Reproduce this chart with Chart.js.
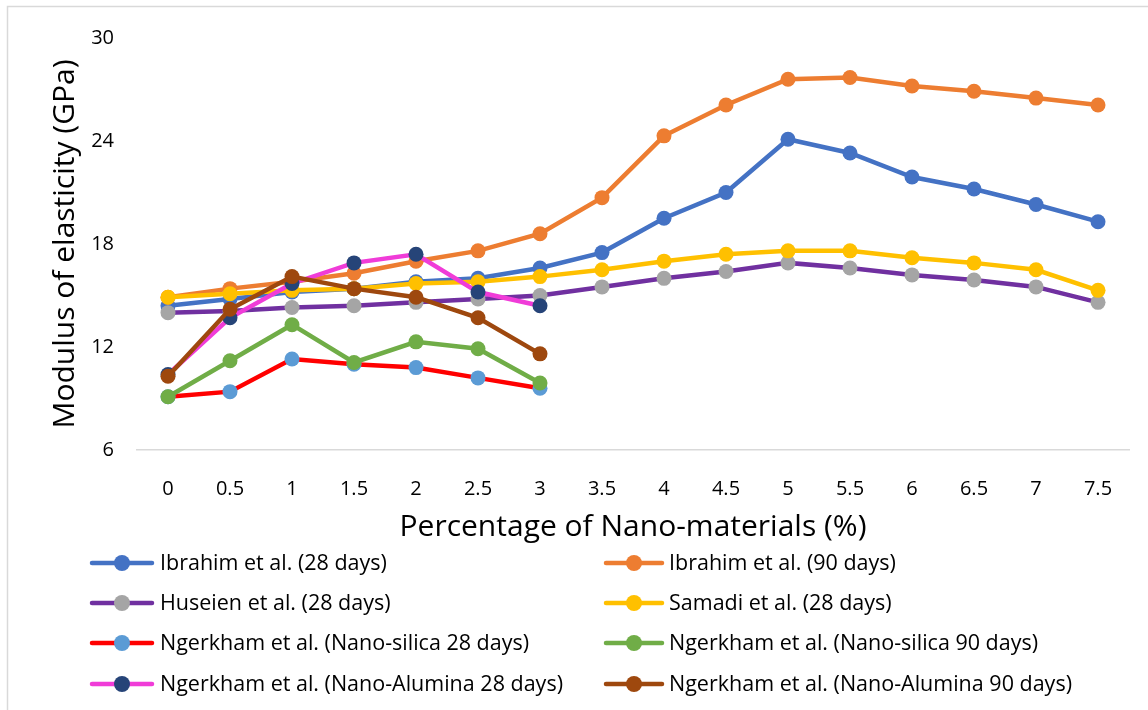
<!DOCTYPE html>
<html>
<head>
<meta charset="utf-8">
<script src="https://cdn.jsdelivr.net/npm/chart.js@4/dist/chart.umd.min.js"></script>
<style>
  html, body { margin: 0; padding: 0; background: #fff; }
  #wrap { width: 1148px; height: 710px; }
</style>
</head>
<body>
<div id="wrap"><canvas id="chart" width="1148" height="710"></canvas></div>
<script>
"use strict";

// ── Data ──────────────────────────────────────────────────────────────────────
const pctLabels = ["0", "0.5", "1", "1.5", "2", "2.5", "3", "3.5",
                   "4", "4.5", "5", "5.5", "6", "6.5", "7", "7.5"];

const ibrahim28  = [14.4, 14.8, 15.2, 15.4, 15.8, 16.0, 16.6, 17.5, 19.5, 21.0, 24.1, 23.3, 21.9, 21.2, 20.3, 19.3];
const ibrahim90  = [14.9, 15.4, 15.8, 16.3, 17.0, 17.6, 18.6, 20.7, 24.3, 26.1, 27.6, 27.7, 27.2, 26.9, 26.5, 26.1];
const huseien28  = [14.0, 14.1, 14.3, 14.4, 14.6, 14.8, 15.0, 15.5, 16.0, 16.4, 16.9, 16.6, 16.2, 15.9, 15.5, 14.6];
const samadi28   = [14.9, 15.1, 15.3, 15.4, 15.7, 15.8, 16.1, 16.5, 17.0, 17.4, 17.6, 17.6, 17.2, 16.9, 16.5, 15.3];
const nSilica28  = [9.1, 9.4, 11.3, 11.0, 10.8, 10.2, 9.6];
const nSilica90  = [9.1, 11.2, 13.3, 11.1, 12.3, 11.9, 9.9];
const nAlumina28 = [10.4, 13.7, 15.7, 16.9, 17.4, 15.2, 14.4];
const nAlumina90 = [10.3, 14.2, 16.1, 15.4, 14.9, 13.7, 11.6];

const yTicks = [6, 12, 18, 24, 30];

// ── Series styling: line colour / marker colour ───────────────────────────────
const series = [
  { label: "Ibrahim et al. (28 days)",                    data: ibrahim28,  line: "#4472c4", dot: "#4472c4" },
  { label: "Ibrahim et al. (90 days)",                    data: ibrahim90,  line: "#ed7d31", dot: "#ed7d31" },
  { label: "Huseien et al. (28 days)",                    data: huseien28,  line: "#7030a0", dot: "#a5a5a5" },
  { label: "Samadi et al. (28 days)",                     data: samadi28,   line: "#ffc000", dot: "#ffc000" },
  { label: "Ngerkham et al. (Nano-silica 28 days)",       data: nSilica28,  line: "#ff0000", dot: "#5b9bd5" },
  { label: "Ngerkham et al. (Nano-silica 90 days)",       data: nSilica90,  line: "#70ad47", dot: "#70ad47" },
  { label: "Ngerkham et al. (Nano-Alumina 28 days)",      data: nAlumina28, line: "#f03cd8", dot: "#264478" },
  { label: "Ngerkham et al. (Nano-Alumina 90 days)",      data: nAlumina90, line: "#9e480e", dot: "#9e480e" },
];

const FONT = "'Open Sans', sans-serif";

// ── Plugins: frame + two-column legend ───────────────────────────────────────
const framePlugin = {
  id: "frame",
  beforeDraw(chart) {
    const ctx = chart.ctx;
    ctx.save();
    ctx.fillStyle = "#fff";
    ctx.fillRect(0, 0, chart.width, chart.height);
    ctx.strokeStyle = "#d9d9d9";
    ctx.lineWidth = 1.5;
    ctx.beginPath();
    ctx.moveTo(7.5, chart.height);
    ctx.lineTo(7.5, 6.5);
    ctx.lineTo(chart.width, 6.5);
    ctx.stroke();
    ctx.restore();
  },
};

const legendPlugin = {
  id: "twoColLegend",
  afterDraw(chart) {
    const ctx = chart.ctx;
    const cols = [{ x0: 92, x1: 152, tx: 160 }, { x0: 606, x1: 662, tx: 669 }];
    const rows = [563, 603, 643, 684];
    ctx.save();
    ctx.font = `21.5px ${FONT}`;
    ctx.textBaseline = "middle";
    ctx.fillStyle = "#000";
    chart.data.datasets.forEach((ds, i) => {
      const c = cols[i % 2];
      const y = rows[Math.floor(i / 2)];
      ctx.strokeStyle = ds.borderColor;
      ctx.lineWidth = 4.5;
      ctx.lineCap = "round";
      ctx.beginPath();
      ctx.moveTo(c.x0, y);
      ctx.lineTo(c.x1, y);
      ctx.stroke();
      ctx.fillStyle = ds.pointBackgroundColor;
      ctx.beginPath();
      ctx.arc((c.x0 + c.x1) / 2, y, 8, 0, Math.PI * 2);
      ctx.fill();
      ctx.fillStyle = "#000";
      ctx.fillText(ds.label, c.tx, y + 1);
    });
    ctx.restore();
  },
};

// ── Chart ─────────────────────────────────────────────────────────────────────
new Chart(document.getElementById("chart"), {
  type: "line",
  data: {
    labels: pctLabels,
    datasets: series.map((s, i) => ({
      label:                s.label,
      data:                 s.data,
      borderColor:          s.line,
      borderWidth:          4.5,
      pointBackgroundColor: s.dot,
      pointBorderColor:     s.dot,
      pointBorderWidth:     0,
      pointRadius:          7.5,
      tension:              0,
      fill:                 false,
      order:                series.length - i,   // later series on top, like Excel
    })),
  },
  options: {
    responsive: false,
    animation: false,
    layout: { padding: { left: 8, right: 19, top: 38, bottom: 160 } },
    plugins: {
      legend:  { display: false },
      tooltip: { enabled: false },
    },
    scales: {
      x: {
        grid:   { display: false, drawTicks: false },
        border: { display: true, color: "#d9d9d9", width: 1.5 },
        offset: true,
        ticks:  { color: "#000", font: { family: FONT, size: 20 }, padding: 27, maxRotation: 0 },
        title:  {
          display: true,
          text: "Percentage of Nano-materials (%)",
          color: "#000",
          font: { family: FONT, size: 30 },
          padding: { top: 0, bottom: 5 },
        },
        afterFit(scale) { scale.height = 100; },
      },
      y: {
        min: yTicks[0],
        max: yTicks[yTicks.length - 1],
        grid:   { display: false, drawTicks: false },
        border: { display: false },
        afterBuildTicks(scale) { scale.ticks = yTicks.map(v => ({ value: v })); },
        ticks:  { color: "#000", font: { family: FONT, size: 20 }, padding: 23 },
        title:  {
          display: true,
          text: "Modulus of elasticity (GPa)",
          color: "#000",
          font: { family: FONT, size: 30 },
          padding: { top: 39, bottom: 0 },
        },
        afterFit(scale) { scale.width = 129; },
      },
    },
  },
  plugins: [framePlugin, legendPlugin],
});
</script>
</body>
</html>
